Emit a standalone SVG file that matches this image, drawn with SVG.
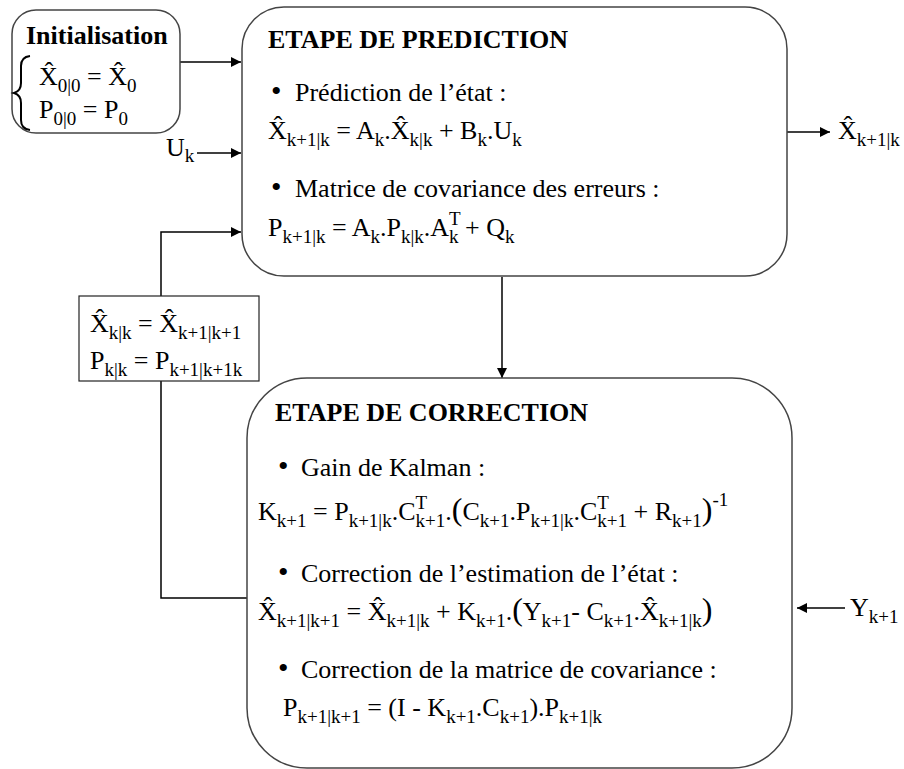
<svg xmlns="http://www.w3.org/2000/svg" width="904" height="769" viewBox="0 0 904 769">
<defs>
<style>
text{font-family:"Liberation Serif","Times New Roman",serif;fill:#000;}
.m{font-size:26px;}
.h{font-size:26px;font-weight:bold;}
.s{font-size:19px;}
.p{font-size:32px;}
.b{font-size:30px;}
.box{fill:#fff;stroke:#444;stroke-width:1.5;}
.fb{fill:#fff;stroke:#222;stroke-width:1.2;}
.c{fill:none;stroke:#000;stroke-width:1.5;}
</style>
<marker id="ah" viewBox="0 0 10 10" refX="10" refY="5" markerWidth="10" markerHeight="10" markerUnits="userSpaceOnUse" orient="auto">
<path d="M0,0 L10,5 L0,10 z" fill="#000"/>
</marker>
</defs>
<rect width="904" height="769" fill="#fff"/>

<g id="connectors">
<path class="c" d="M180,62 H241" marker-end="url(#ah)"/>
<path class="c" d="M197,153 H241" marker-end="url(#ah)"/>
<path class="c" d="M787,132 H830" marker-end="url(#ah)"/>
<path class="c" d="M502,277 V378" marker-end="url(#ah)"/>
<path class="c" d="M247,598 H161 V232 H241" marker-end="url(#ah)"/>
<path class="c" d="M845,608 H797" marker-end="url(#ah)"/>
</g>

<g id="init">
<rect class="box" x="12" y="10" width="168" height="123" rx="24"/>
<text class="h" x="26" y="44">Initialisation</text>
<path d="M30,56 Q21,57 21,66 L21,83 Q21,91 14,93 Q21,95 21,103 L21,120 Q21,129 30,130" fill="none" stroke="#000" stroke-width="2"/>
<text class="m" x="39" y="85">X&#x302;<tspan class="s" dy="7">0|0</tspan><tspan dy="-7"> = X&#x302;</tspan><tspan class="s" dy="7">0</tspan></text>
<text class="m" x="39" y="118">P<tspan class="s" dy="7">0|0</tspan><tspan dy="-7"> = P</tspan><tspan class="s" dy="7">0</tspan></text>
</g>

<g id="uk">
<text class="m" x="166" y="156">U<tspan class="s" dy="6">k</tspan></text>
</g>

<g id="prediction">
<rect class="box" x="242" y="7" width="545" height="269" rx="42"/>
<text class="h" x="268" y="48">ETAPE DE PREDICTION</text>
<text class="m" y="101"><tspan class="b" x="271">•</tspan><tspan x="295">Prédiction de l’état :</tspan></text>
<text class="m" x="268" y="139">X&#x302;<tspan class="s" dy="7">k+1|k</tspan><tspan dy="-7"> = A</tspan><tspan class="s" dy="7">k</tspan><tspan dy="-7">.X&#x302;</tspan><tspan class="s" dy="7">k|k</tspan><tspan dy="-7"> + B</tspan><tspan class="s" dy="7">k</tspan><tspan dy="-7">.U</tspan><tspan class="s" dy="7">k</tspan></text>
<text class="m" y="197"><tspan class="b" x="271">•</tspan><tspan x="295">Matrice de covariance des erreurs :</tspan></text>
<text class="m" x="268" y="236">P<tspan class="s" dy="7">k+1|k</tspan><tspan dy="-7"> = A</tspan><tspan class="s" dy="7">k</tspan><tspan dy="-7">.P</tspan><tspan class="s" dy="7">k|k</tspan><tspan dy="-7">.A</tspan><tspan class="s" dy="-11">T</tspan><tspan class="s" dx="-11.6" dy="18">k</tspan><tspan dy="-7"> + Q</tspan><tspan class="s" dy="7">k</tspan></text>
</g>

<g id="output">
<text class="m" x="838" y="139">X&#x302;<tspan class="s" dy="7">k+1|k</tspan></text>
</g>

<g id="feedback">
<rect class="fb" x="79" y="296" width="180" height="85"/>
<text class="m" x="90" y="332">X&#x302;<tspan class="s" dy="7">k|k</tspan><tspan dy="-7"> = X&#x302;</tspan><tspan class="s" dy="7">k+1|k+1</tspan></text>
<text class="m" x="90" y="369">P<tspan class="s" dy="7">k|k</tspan><tspan dy="-7"> = P</tspan><tspan class="s" dy="7">k+1|k+1k</tspan></text>
</g>

<g id="correction">
<rect class="box" x="247" y="378" width="545" height="390" rx="60"/>
<text class="h" x="275" y="421">ETAPE DE CORRECTION</text>
<text class="m" y="476"><tspan class="b" x="278">•</tspan><tspan x="301">Gain de Kalman :</tspan></text>
<text class="m" x="258" y="520">K<tspan class="s" dy="7">k+1</tspan><tspan dy="-7"> = P</tspan><tspan class="s" dy="7">k+1|k</tspan><tspan dy="-7">.C</tspan><tspan class="s" dy="-11">T</tspan><tspan class="s" dx="-11.6" dy="18">k+1</tspan><tspan dy="-7">.</tspan><tspan class="p">(</tspan><tspan>C</tspan><tspan class="s" dy="7">k+1</tspan><tspan dy="-7">.P</tspan><tspan class="s" dy="7">k+1|k</tspan><tspan dy="-7">.C</tspan><tspan class="s" dy="-11">T</tspan><tspan class="s" dx="-11.6" dy="18">k+1</tspan><tspan dy="-7"> + R</tspan><tspan class="s" dy="7">k+1</tspan><tspan class="p" dy="-7">)</tspan><tspan class="s" dy="-14">-1</tspan></text>
<text class="m" y="582"><tspan class="b" x="278">•</tspan><tspan x="301">Correction de l’estimation de l’état :</tspan></text>
<text class="m" x="258" y="620">X&#x302;<tspan class="s" dy="7">k+1|k+1</tspan><tspan dy="-7"> = X&#x302;</tspan><tspan class="s" dy="7">k+1|k</tspan><tspan dy="-7"> + K</tspan><tspan class="s" dy="7">k+1</tspan><tspan dy="-7">.</tspan><tspan class="p">(</tspan><tspan>Y</tspan><tspan class="s" dy="7">k+1</tspan><tspan dy="-7">- C</tspan><tspan class="s" dy="7">k+1</tspan><tspan dy="-7">.X&#x302;</tspan><tspan class="s" dy="7">k+1|k</tspan><tspan class="p" dy="-7">)</tspan></text>
<text class="m" y="678"><tspan class="b" x="278">•</tspan><tspan x="301">Correction de la matrice de covariance :</tspan></text>
<text class="m" x="283" y="716">P<tspan class="s" dy="7">k+1|k+1</tspan><tspan dy="-7"> = (I - K</tspan><tspan class="s" dy="7">k+1</tspan><tspan dy="-7">.C</tspan><tspan class="s" dy="7">k+1</tspan><tspan dy="-7">).P</tspan><tspan class="s" dy="7">k+1|k</tspan></text>
</g>

<g id="yk">
<text class="m" x="850" y="616">Y<tspan class="s" dy="7">k+1</tspan></text>
</g>
</svg>
